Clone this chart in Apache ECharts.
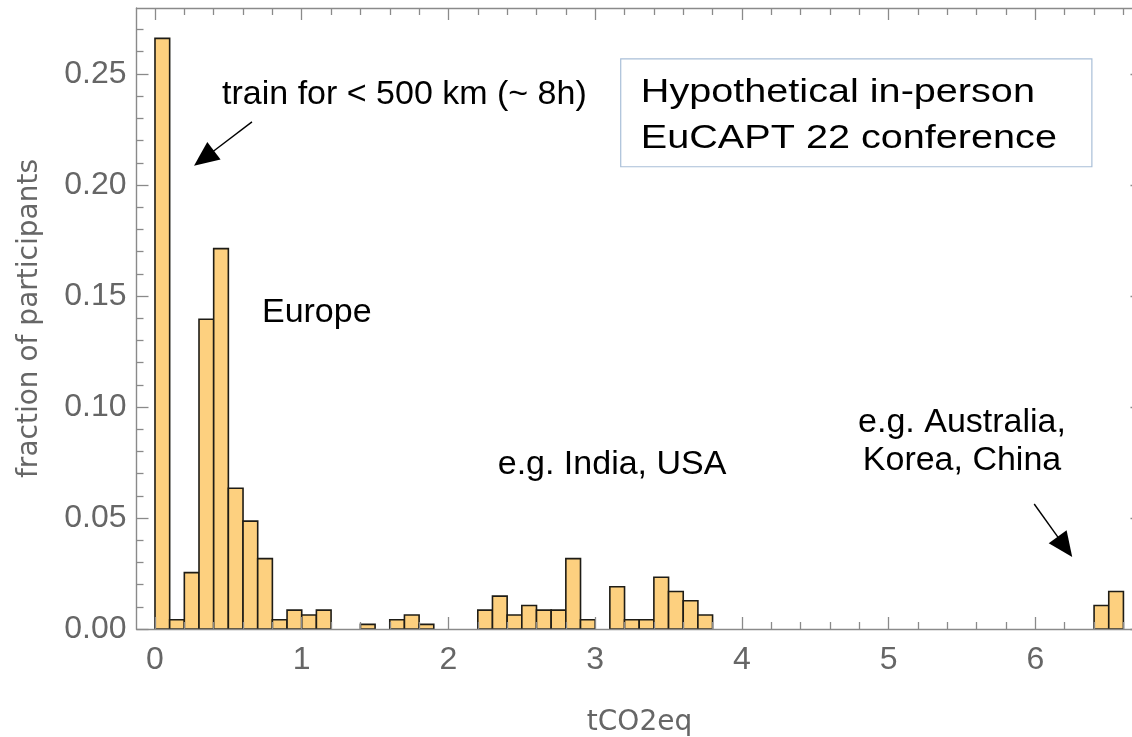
<!DOCTYPE html>
<html><head><meta charset="utf-8">
<script src="https://cdn.jsdelivr.net/npm/echarts@6/dist/echarts.min.js"></script>
<style>html,body{margin:0;padding:0;background:#fff}#c{width:1132px;height:737px}</style>
</head><body><div id="c"></div>
<script>
// ---- data (bin left edge, fraction of participants) ----
const binStarts = [0,0.1,0.2,0.3,0.4,0.5,0.6,0.7,0.8,0.9,1.0,1.1,
                   1.4,1.6,1.7,1.8,
                   2.2,2.3,2.4,2.5,2.6,2.7,2.8,2.9,
                   3.1,3.2,3.3,3.4,3.5,3.6,3.7,
                   6.4,6.5];
const fractions = [0.266,0.0042,0.0254,0.1395,0.1713,0.0634,0.0486,0.0317,0.0042,0.0085,0.0063,0.0085,
                   0.0021,0.0042,0.0063,0.0021,
                   0.0085,0.0148,0.0063,0.0106,0.0085,0.0085,0.0317,0.0042,
                   0.019,0.0042,0.0042,0.0233,0.0169,0.0127,0.0063,
                   0.0106,0.0169];
const binWidth = 0.1;
const xTickLabels = [0,1,2,3,4,5,6];
const yTickLabels = [0,0.05,0.10,0.15,0.20,0.25];
const xMinorStep = 0.2, yMinorStep = 0.01;
const xRange = [-0.126, 6.73];
const yRange = [0, 0.2797];

const xMinor = [];
for (let k = 1; k * xMinorStep <= xRange[1]; k++) { if (k % 5) xMinor.push(+(k * xMinorStep).toFixed(2)); }
const yMinor = [];
for (let k = 1; k * yMinorStep <= yRange[1]; k++) { if (k % 5) yMinor.push(+(k * yMinorStep).toFixed(3)); }

const AX = '#8a8a8a', LBL = '#666666';
function xAxisDef(pos, major, labels) {
  return {
    type: 'value', position: pos, min: xRange[0], max: xRange[1], z: 5,
    axisLine: { show: major, onZero: false, lineStyle: { color: AX, width: 1.4 } },
    axisTick: { show: true, inside: true, length: major ? 12 : 7, customValues: major ? xTickLabels : xMinor, lineStyle: { color: AX, width: 1.3 } },
    axisLabel: labels ? { show: true, customValues: xTickLabels, color: LBL, fontSize: 32, fontFamily: 'Liberation Sans', margin: 15 } : { show: false },
    splitLine: { show: false },
    name: labels ? 'tCO2eq' : '', nameLocation: 'middle', nameGap: 80,
    nameTextStyle: { color: LBL, fontSize: 28, fontFamily: 'DejaVu Sans' }
  };
}
function yAxisDef(pos, major, labels) {
  return {
    type: 'value', position: pos, min: yRange[0], max: yRange[1], z: 5,
    axisLine: { show: major, onZero: false, lineStyle: { color: AX, width: 1.4 } },
    axisTick: { show: true, inside: true, length: major ? 12 : 7, customValues: major ? yTickLabels : yMinor, lineStyle: { color: AX, width: 1.3 } },
    axisLabel: labels ? { show: true, customValues: yTickLabels, color: LBL, fontSize: 32, fontFamily: 'Liberation Sans', margin: 10, formatter: v => (+v).toFixed(2) } : { show: false },
    splitLine: { show: false },
    name: labels ? 'fraction of participants' : '', nameLocation: 'middle', nameGap: 93, nameRotate: 90,
    nameTextStyle: { color: LBL, fontSize: 28, fontFamily: 'DejaVu Sans' }
  };
}

const chart = echarts.init(document.getElementById('c'), null, { renderer: 'canvas' });
chart.setOption({
  animation: false,
  backgroundColor: '#ffffff',
  grid: { left: 136.5, top: 8, width: 1006, height: 621, containLabel: false, outerBoundsMode: 'none' },
  xAxis: [xAxisDef('bottom', true, true), xAxisDef('top', true, false), xAxisDef('bottom', false, false), xAxisDef('top', false, false)],
  yAxis: [yAxisDef('left', true, true), yAxisDef('right', true, false), yAxisDef('left', false, false), yAxisDef('right', false, false)],
  series: [{
    type: 'custom', xAxisIndex: 0, yAxisIndex: 0, z: 2,
    data: binStarts.map((b, i) => [b, +(b + binWidth).toFixed(2), fractions[i]]),
    encode: { x: [0, 1], y: 2 },
    renderItem: function (params, api) {
      const p0 = api.coord([api.value(0), api.value(2)]);
      const p1 = api.coord([api.value(1), 0]);
      return { type: 'rect', shape: { x: p0[0], y: p0[1], width: p1[0] - p0[0], height: p1[1] - p0[1] },
               style: { fill: '#fdd07f', stroke: '#1e1c16', lineWidth: 1.6 } };
    }
  }]
});

// ---- annotations (positions in data coordinates) ----
const annotations = [
  { text: 'train for < 500 km (~ 8h)', at: [0.457, 0.2405], align: 'left' },
  { text: 'Europe', at: [0.729, 0.1426], align: 'left' },
  { text: 'e.g. India, USA', at: [3.115, 0.0739], align: 'center' },
  { text: 'e.g. Australia,\nKorea, China', at: [5.50, 0.0845], align: 'center', lineHeight: 38 }
];
const arrows = [
  { from: [0.661, 0.2284], to: [0.266, 0.2086] },
  { from: [5.992, 0.0563], to: [6.251, 0.0324] }
];
const infoBox = { corner1: [3.174, 0.2568], corner2: [6.385, 0.2082], textAt: [3.311, 0.2314],
                  text: 'Hypothetical in-person\nEuCAPT 22 conference' };

const px = p => chart.convertToPixel({ xAxisIndex: 0, yAxisIndex: 0 }, p);
const graphics = [];
annotations.forEach(a => {
  const p = px(a.at);
  graphics.push({ type: 'text', x: p[0], y: p[1], z: 10,
    style: { text: a.text, fontSize: 34, fontFamily: 'Liberation Sans', fill: '#000', align: a.align, verticalAlign: 'middle', lineHeight: a.lineHeight || 40 } });
});
arrows.forEach(ar => {
  const s = px(ar.from), t = px(ar.to);
  const dx = t[0] - s[0], dy = t[1] - s[1], L = Math.hypot(dx, dy);
  const ux = dx / L, uy = dy / L, nx = -uy, ny = ux;
  const hl = 25, hw = 11;
  const bx = t[0] - ux * hl, by = t[1] - uy * hl;
  graphics.push({ type: 'line', z: 10, shape: { x1: s[0], y1: s[1], x2: bx + ux * 2, y2: by + uy * 2 }, style: { stroke: '#000', lineWidth: 1.4 } });
  graphics.push({ type: 'polygon', z: 10, shape: { points: [[t[0], t[1]], [bx + nx * hw, by + ny * hw], [bx - nx * hw, by - ny * hw]] }, style: { fill: '#000' } });
});
{
  const c1 = px(infoBox.corner1), c2 = px(infoBox.corner2), tp = px(infoBox.textAt);
  graphics.push({ type: 'rect', z: 10, shape: { x: c1[0], y: c1[1], width: c2[0] - c1[0], height: c2[1] - c1[1] },
                  style: { fill: '#ffffff', stroke: '#a9bfd8', lineWidth: 1.2 } });
  graphics.push({ type: 'text', z: 11, x: tp[0], y: tp[1], originX: 0, originY: 0, scaleX: 1.165,
                  style: { text: infoBox.text, fontSize: 34, fontFamily: 'Liberation Sans', fill: '#000', align: 'left', verticalAlign: 'middle', lineHeight: 46 } });
}
chart.setOption({ graphic: graphics });
</script>
</body></html>
